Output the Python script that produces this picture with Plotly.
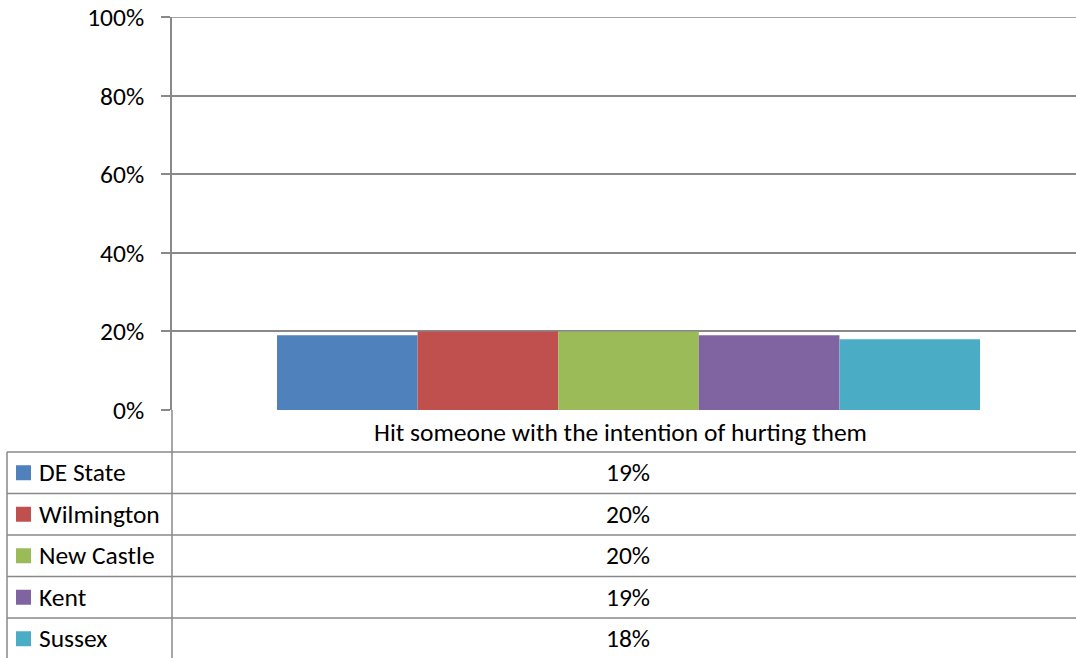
import plotly.graph_objects as go

categories = ["Hit someone with the intention of hurting them"]
series_names = ["DE State", "Wilmington", "New Castle", "Kent", "Sussex"]
series_values = [19, 20, 20, 19, 18]
series_colors = ["#4F81BD", "#C0504D", "#9BBB59", "#8064A2", "#4BACC6"]
y_ticks = [0, 20, 40, 60, 80, 100]
y_tick_labels = [f"{t}%" for t in y_ticks]

W, H = 1076, 658
L, R, T, B = 172, 1076, 17, 410
PW, PH = R - L, B - T
FONT = "Carlito, Calibri, Lato, sans-serif"
FS = 25.5
GRID = "#898989"

def px(x):
    return (x - L) / PW

def py(y):
    return (B - y) / PH

fig = go.Figure()
for name, val, col in zip(series_names, series_values, series_colors):
    fig.add_trace(go.Bar(
        x=[0], y=[val], name=name, marker=dict(color=col, line=dict(width=0)),
        showlegend=False, hoverinfo="skip",
    ))

shapes = []
annotations = []

# top gridline (100%)
shapes.append(dict(type="line", xref="paper", yref="y",
                   x0=0, x1=1, y0=y_ticks[-1], y1=y_ticks[-1],
                   line=dict(color=GRID, width=1.5)))

# category label row
annotations.append(dict(
    x=px(620), y=py(432), xref="paper", yref="paper", text=categories[0],
    showarrow=False, xanchor="center", yanchor="middle",
    font=dict(family=FONT, size=FS, color="#000000"),
))

# table
row_tops = [452, 493.5, 535, 576.5, 618, 659.5]
for yy in row_tops:
    shapes.append(dict(type="line", xref="paper", yref="paper",
                       x0=px(7), x1=px(1076), y0=py(yy), y1=py(yy),
                       line=dict(color=GRID, width=1.5)))
shapes.append(dict(type="line", xref="paper", yref="paper",
                   x0=px(7), x1=px(7), y0=py(452), y1=py(660),
                   line=dict(color=GRID, width=1.5)))
shapes.append(dict(type="line", xref="paper", yref="paper",
                   x0=0, x1=0, y0=py(410), y1=py(660),
                   line=dict(color=GRID, width=1.5)))

for i, (name, val, col) in enumerate(zip(series_names, series_values, series_colors)):
    cy = (row_tops[i] + row_tops[i + 1]) / 2
    shapes.append(dict(type="rect", xref="paper", yref="paper",
                       x0=px(16), x1=px(31), y0=py(cy - 7.5), y1=py(cy + 7.5),
                       fillcolor=col, line=dict(width=0)))
    annotations.append(dict(
        x=px(37), y=py(cy), xref="paper", yref="paper", text=name,
        showarrow=False, xanchor="left", yanchor="middle",
        font=dict(family=FONT, size=FS, color="#000000"),
    ))
    annotations.append(dict(
        x=px(628), y=py(cy), xref="paper", yref="paper", text=f"{val}%",
        showarrow=False, xanchor="center", yanchor="middle",
        font=dict(family=FONT, size=FS, color="#000000"),
    ))

fig.update_layout(
    width=W, height=H,
    margin=dict(l=L, r=W - R, t=T, b=H - B, pad=0),
    paper_bgcolor="white", plot_bgcolor="white",
    barmode="group", bargap=0.2223, bargroupgap=0,
    shapes=shapes, annotations=annotations,
    showlegend=False,
)
fig.update_xaxes(
    range=[-0.505, 0.495], showticklabels=False, showgrid=False,
    zeroline=False, showline=False, ticks="", fixedrange=True,
)
fig.update_yaxes(
    range=[0, 100], tickvals=y_ticks, ticktext=y_tick_labels,
    showgrid=True, gridcolor=GRID, gridwidth=1.5,
    showline=True, linecolor=GRID, linewidth=1.5,
    ticks="outside", ticklen=9, tickcolor=GRID, tickwidth=1.5,
    zeroline=False, ticklabelstandoff=12, fixedrange=True,
    tickfont=dict(family=FONT, size=FS, color="#000000"),
)

fig.write_html(
    "out.html",
    config={"displayModeBar": False},
    post_script="document.body.style.margin='0';document.body.style.overflow='hidden';",
)
